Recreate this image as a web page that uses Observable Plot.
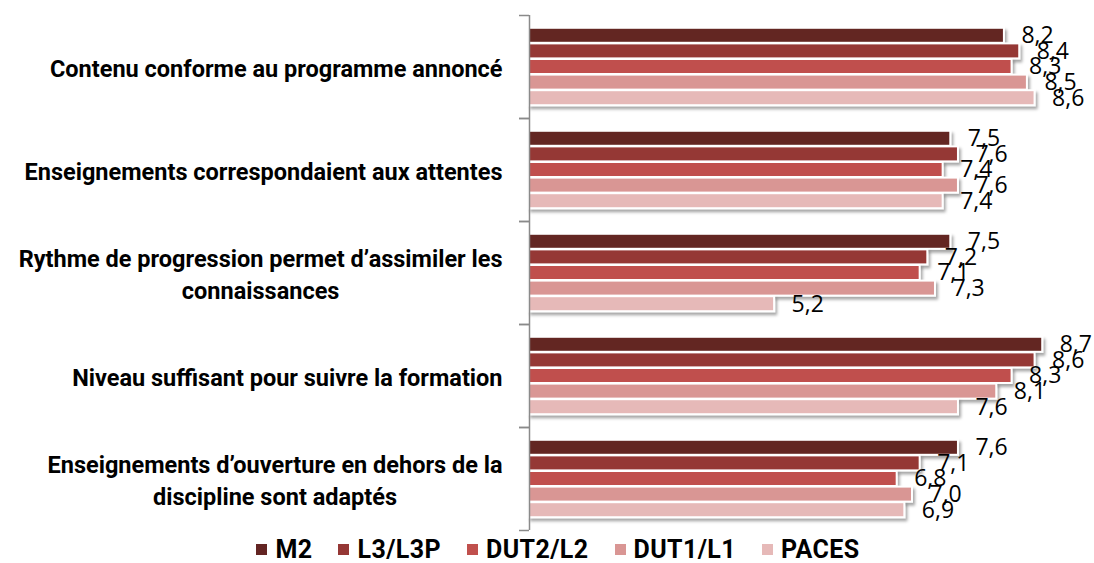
<!DOCTYPE html>
<html>
<head>
<meta charset="utf-8">
<script src="https://cdn.jsdelivr.net/npm/d3@7"></script>
<script src="https://cdn.jsdelivr.net/npm/@observablehq/plot@0.6"></script>
<style>
  html, body { margin: 0; padding: 0; background: #fff; }
  #chart { width: 1094px; }
  .legend { display: flex; justify-content: center; align-items: center; height: 27px; padding-left: 22px;
    font-family: Roboto, sans-serif; font-weight: bold; font-size: 25px; letter-spacing: 0.4px; color: #000; }
  .legend .item { display: flex; align-items: center; margin: 0 13px; }
  .legend .sw { width: 11px; height: 11px; margin-right: 8px; }
</style>
</head>
<body>
<div id="chart"></div>
<script>
const categories = [
  "Contenu conforme au programme annoncé",
  "Enseignements correspondaient aux attentes",
  "Rythme de progression permet d’assimiler les\nconnaissances",
  "Niveau suffisant pour suivre la formation",
  "Enseignements d’ouverture en dehors de la\ndiscipline sont adaptés"
];
const series = ["M2", "L3/L3P", "DUT2/L2", "DUT1/L1", "PACES"];
const valuesM2    = [8.2, 7.5, 7.5, 8.7, 7.6];
const valuesL3    = [8.4, 7.6, 7.2, 8.6, 7.1];
const valuesDUT2  = [8.3, 7.4, 7.1, 8.3, 6.8];
const valuesDUT1  = [8.5, 7.6, 7.3, 8.1, 7.0];
const valuesPACES = [8.6, 7.4, 5.2, 7.6, 6.9];
const colors = ["#632523", "#953735", "#C0504D", "#D99694", "#E6B9B8"];

const seriesValues = [valuesM2, valuesL3, valuesDUT2, valuesDUT1, valuesPACES];
const data = categories.flatMap((c, i) =>
  series.map((s, j) => ({category: c, series: s, si: j, value: seriesValues[j][i]})));

const W = 1094, H = 536;
const xMin = 2, xMax = 9;
const padTop = 0.8, yMax = 6.6;       // slot units inside each group
const labelFont = "Roboto, sans-serif", labelSize = 23.5;

const ctx = document.createElement("canvas").getContext("2d");
ctx.font = `bold ${labelSize}px Roboto`;
const measure = t => ctx.measureText(t).width;

const fmt = v => d3.format(".1f")(v).replace(".", ",");

const labelMarks = categories.map(c => {
  const w = Math.max(...c.split("\n").map(measure));
  return Plot.text([c], {
    fy: d => d, text: d => d, frameAnchor: "left", textAnchor: "middle",
    dx: -(27 + w / 2), fontWeight: "bold", fontSize: labelSize, fontFamily: labelFont,
    lineHeight: 1.36, fill: "#000"
  });
});

const plot = Plot.plot({
  width: W, height: H,
  marginLeft: 529, marginRight: W - 529 - (xMax - xMin) * 76.6, marginTop: 15, marginBottom: 6,
  x: {domain: [xMin, xMax], axis: null},
  y: {domain: [0, yMax], reverse: true, axis: null},
  fy: {domain: categories, padding: 0, axis: null},
  color: {domain: series, range: colors},
  marks: [
    Plot.rectX(data, {
      fy: "category", x1: () => xMin, x2: "value",
      y1: d => d.si + padTop, y2: d => d.si + padTop + 1,
      fill: "series", stroke: "#fff", strokeWidth: 2, insetTop: 0.3, insetBottom: 0.3
    }),
    Plot.ruleX([xMin], {stroke: "#8a8a8a", strokeWidth: 1.5}),
    Plot.ruleY([0, yMax], {x1: () => xMin, x2: () => xMin, insetLeft: -10, stroke: "#8a8a8a", strokeWidth: 1.5}),
    Plot.text(data, {
      fy: "category", x: "value", y: d => d.si + padTop + 0.5, text: d => fmt(d.value),
      dx: 17, textAnchor: "start", fontSize: 23, fontFamily: "'Open Sans', sans-serif", fill: "#000"
    }),
    ...labelMarks
  ]
});

// drop shadow on bars
const defs = document.createElementNS("http://www.w3.org/2000/svg", "defs");
defs.innerHTML = `<filter id="shadow" x="-5%" y="-50%" width="115%" height="220%">
  <feDropShadow dx="2" dy="3" stdDeviation="1.6" flood-color="#000" flood-opacity="0.35"/></filter>`;
plot.insertBefore(defs, plot.firstChild);
plot.querySelectorAll('g[aria-label="rect"] rect').forEach(r => r.setAttribute("filter", "url(#shadow)"));

document.getElementById("chart").appendChild(plot);

const legend = document.createElement("div");
legend.className = "legend";
series.forEach((s, i) => {
  const it = document.createElement("div");
  it.className = "item";
  const sw = document.createElement("span");
  sw.className = "sw"; sw.style.background = colors[i];
  const tx = document.createElement("span");
  tx.textContent = s;
  it.appendChild(sw); it.appendChild(tx);
  legend.appendChild(it);
});
document.getElementById("chart").appendChild(legend);
</script>
</body>
</html>
